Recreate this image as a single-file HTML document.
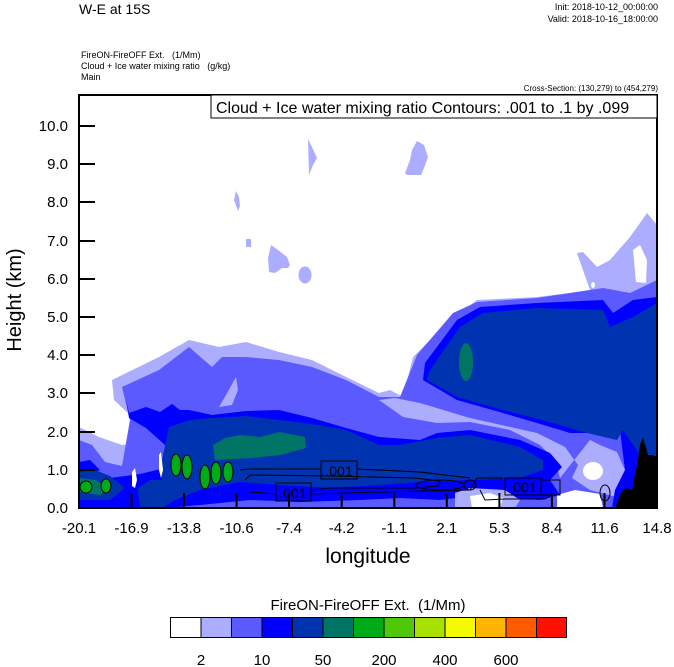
<!DOCTYPE html>
<html><head><meta charset="utf-8"><style>
html,body{margin:0;padding:0;background:#fff;}
svg{display:block;font-family:"Liberation Sans",sans-serif;}
</style></head><body>
<svg width="674" height="667" viewBox="0 0 674 667" xmlns="http://www.w3.org/2000/svg">
<text x="79" y="14" font-size="14">W-E at 15S</text>
<text x="658" y="10" font-size="9" text-anchor="end">Init: 2018-10-12_00:00:00</text>
<text x="658" y="22" font-size="9" text-anchor="end">Valid: 2018-10-16_18:00:00</text>
<text x="81" y="58" font-size="9" xml:space="preserve">FireON-FireOFF Ext.   (1/Mm)</text>
<text x="81" y="69" font-size="9" xml:space="preserve">Cloud + Ice water mixing ratio   (g/kg)</text>
<text x="81" y="80" font-size="9">Main</text>
<text x="658" y="91" font-size="8" text-anchor="end">Cross-Section: (130,279) to (454,279)</text>

<defs><clipPath id="pc"><rect x="79" y="95" width="578" height="413"/></clipPath></defs>
<g clip-path="url(#pc)">
<!-- lavender -->
<polygon fill="#adadff" points="79,427 99,437 122,445 146,442 162,445 160,430 130,415 114,400 112,380 159,357 189,340 219,347 246,342 279,352 312,360 346,377 379,393 390,390 403,397 413,357 450,320 477,300 537,297 570,293 590,290 577,253 583,252 597,267 610,260 630,237 647,213 657,225 657,508 79,508"/>
<polygon fill="#fff" points="633,250 640,245 647,260 646,283 636,282"/>
<ellipse cx="593" cy="285" rx="2" ry="3" fill="#fff"/>
<polygon fill="#adadff" points="308,139 311,145 317,158 313,165 309,175"/>
<polygon fill="#adadff" points="417,141 424,145 428,157 424,168 421,175 407,175 405,173 410,160 412,150"/>
<polygon fill="#adadff" points="236,191 239,197 240,206 238,211 234,200"/>
<rect x="246" y="239" width="5" height="8" fill="#adadff"/>
<polygon fill="#adadff" points="271,245 278,250 287,257 290,265 288,268 282,268 275,273 269,272 268,258"/>
<ellipse cx="305" cy="275" rx="6.5" ry="8.5" fill="#adadff"/>
<!-- medium -->
<polygon fill="#5a5aff" points="79,440 92,445 105,462 122,466 130,420 122,387 159,370 189,347 212,367 222,357 246,357 279,360 312,367 346,380 379,397 400,397 417,355 453,313 477,302 537,298 603,288 630,293 657,280 657,508 79,508"/>
<polygon fill="#adadff" points="219,407 226,395 236,377 238,390 232,405"/>
<!-- lavender gap under plume -->
<polygon fill="#adadff" points="379,400 395,398 420,403 470,418 537,433 565,447 578,465 572,478 590,490 620,498 625,470 617,452 600,445 590,440 560,478 555,460 540,445 510,430 470,422 437,423 403,417"/>
<ellipse cx="593" cy="471" rx="10" ry="9" fill="#fff"/>
<!-- blue -->
<polygon fill="#0000ff" points="126,400 129,413 146,407 160,412 172,404 180,410 189,410 212,415 246,411 279,410 312,418 346,428 379,437 420,440 437,433 470,430 520,440 550,453 562,467 550,480 560,495 540,500 480,495 440,500 400,498 360,500 300,502 250,500 200,505 165,508 165,445 146,428 129,418"/>
<polygon fill="#0000ff" points="79,500 95,488 110,478 140,474 165,468 165,508 79,508"/>
<polygon fill="#0000ff" points="79,462 90,460 100,470 85,476 79,474"/>
<polygon fill="#0000ff" points="425,363 457,320 480,307 537,303 603,300 613,313 633,300 657,297 657,440 640,440 623,433 570,433 537,423 503,413 457,400 423,380"/>
<polygon fill="#0000ff" points="620,430 640,430 657,440 657,508 612,508 615,490 625,470"/>
<!-- dark blue -->
<polygon fill="#0033b0" points="169,427 190,420 212,418 246,416 279,420 312,424 346,430 379,445 400,445 437,438 470,435 520,447 543,460 543,470 520,478 470,480 420,482 380,485 330,488 280,485 240,482 200,490 175,500 162,508 162,460"/>
<polygon fill="#0033b0" points="430,370 460,327 483,313 537,308 603,310 610,327 633,317 657,303 657,460 640,455 623,430 617,440 587,433 553,423 503,410 457,397 427,380"/>
<polygon fill="#0033b0" points="79,472 95,470 110,476 125,488 110,500 79,500"/>
<polygon fill="#0033b0" points="138,488 150,480 165,480 165,508 140,508"/>
<!-- white / lavender near bottom -->
<polygon fill="#adadff" points="455,493 470,488 505,490 520,500 515,508 455,508"/>
<polygon fill="#fff" points="470,496 490,493 503,498 500,508 472,508"/>
<polygon fill="#fff" points="557,495 575,490 600,494 603,508 557,508"/>
<polygon fill="#fff" points="132,472 135,468 137,480 135,488 132,486"/>
<polygon fill="#fff" points="159,455 161,452 163,470 161,478 159,470"/>
<!-- teal -->
<polygon fill="#007566" points="213,445 225,438 240,435 260,437 280,432 305,437 306,448 280,455 250,458 215,460"/>
<ellipse cx="466" cy="362" rx="7" ry="19" fill="#007566"/>
<polygon fill="#007566" points="79,478 95,480 110,488 100,495 79,492"/>
<!-- green cells -->
<g fill="#00ab18" stroke="#000" stroke-width="1">
<ellipse cx="176" cy="465" rx="5" ry="11"/>
<ellipse cx="187" cy="467" rx="5" ry="12"/>
<ellipse cx="205" cy="477" rx="5" ry="12"/>
<ellipse cx="216" cy="473" rx="5" ry="11"/>
<ellipse cx="228" cy="472" rx="5" ry="10"/>
<ellipse cx="86" cy="487" rx="6" ry="6"/>
<ellipse cx="106" cy="486" rx="5" ry="7"/>
</g>
<!-- contour lines -->
<g fill="none" stroke="#000" stroke-width="1">
<polyline points="240,470 249,469 321,469"/>
<polyline points="357,469 420,472 470,478"/>
<path d="M245,480 L250,475 L330,476 L415,478 L440,481 L438,486 L415,488 L330,488 L311,490"/>
<path d="M250,492 L276,494"/>
<path d="M311,494 L420,491 L470,490 L477,478 L503,478"/>
<ellipse cx="440" cy="485" rx="24" ry="5"/>
<ellipse cx="470" cy="485" rx="6" ry="5"/>
<path d="M480,490 L485,500 L505,499 L545,499 L550,496"/>
<path d="M541,480 L560,480 L560,495 L541,495"/>
<ellipse cx="605" cy="493" rx="5" ry="8"/>
</g>
<g stroke="#000" stroke-width="1" fill="none">
<rect x="321" y="461" width="36" height="18"/>
<rect x="276" y="483" width="35" height="18"/>
<rect x="505" y="478" width="36" height="17"/>
</g>
<text x="339" y="476" font-size="14" text-anchor="middle">.001</text>
<text x="293" y="498" font-size="14" text-anchor="middle">.001</text>
<text x="523" y="492" font-size="14" text-anchor="middle">.001</text>
<!-- terrain -->
<polygon fill="#000" points="615,508 620,495 625,488 632,490 637,465 640,445 643,437 648,455 652,455 657,457 657,508"/>
</g>
<!-- ticks -->
<g stroke="#000" stroke-width="2">
<line x1="79" y1="470" x2="95" y2="470"/><line x1="79" y1="432" x2="95" y2="432"/>
<line x1="79" y1="393" x2="95" y2="393"/><line x1="79" y1="355" x2="95" y2="355"/>
<line x1="79" y1="317" x2="95" y2="317"/><line x1="79" y1="279" x2="95" y2="279"/>
<line x1="79" y1="241" x2="95" y2="241"/><line x1="79" y1="202" x2="95" y2="202"/>
<line x1="79" y1="164" x2="95" y2="164"/><line x1="79" y1="126" x2="95" y2="126"/>
<line x1="131.5" y1="508" x2="131.5" y2="493"/><line x1="184" y1="508" x2="184" y2="493"/>
<line x1="236.6" y1="508" x2="236.6" y2="493"/><line x1="289" y1="508" x2="289" y2="493"/>
<line x1="341.7" y1="508" x2="341.7" y2="493"/><line x1="394.3" y1="508" x2="394.3" y2="493"/>
<line x1="446.8" y1="508" x2="446.8" y2="493"/><line x1="499.4" y1="508" x2="499.4" y2="493"/>
<line x1="551.9" y1="508" x2="551.9" y2="493"/><line x1="604.5" y1="508" x2="604.5" y2="493"/>
</g>
<rect x="79" y="95" width="578" height="413" fill="none" stroke="#000" stroke-width="2"/>
<rect x="211" y="95" width="446" height="23" fill="#fff" stroke="#000" stroke-width="1"/>
<text x="216" y="113" font-size="16">Cloud + Ice water mixing ratio Contours: .001 to .1 by .099</text>
<g font-size="15" text-anchor="end">
<text x="68" y="513">0.0</text><text x="68" y="475">1.0</text><text x="68" y="437">2.0</text>
<text x="68" y="398">3.0</text><text x="68" y="360">4.0</text><text x="68" y="322">5.0</text>
<text x="68" y="284">6.0</text><text x="68" y="246">7.0</text><text x="68" y="207">8.0</text>
<text x="68" y="169">9.0</text><text x="68" y="131">10.0</text>
</g>
<text transform="translate(21,300) rotate(-90)" font-size="20" text-anchor="middle">Height (km)</text>
<g font-size="15" text-anchor="middle">
<text x="79" y="533">-20.1</text><text x="131.5" y="533">-16.9</text><text x="184" y="533">-13.8</text>
<text x="236.6" y="533">-10.6</text><text x="289" y="533">-7.4</text><text x="341.7" y="533">-4.2</text>
<text x="394.3" y="533">-1.1</text><text x="446.8" y="533">2.1</text><text x="499.4" y="533">5.3</text>
<text x="551.9" y="533">8.4</text><text x="604.5" y="533">11.6</text><text x="657" y="533">14.8</text>
</g>
<text x="368" y="563" font-size="21" text-anchor="middle">longitude</text>
<text x="368" y="610" font-size="15" text-anchor="middle" xml:space="preserve">FireON-FireOFF Ext.  (1/Mm)</text>
<g stroke="#000" stroke-width="1">
<rect x="170.5" y="617.5" width="30.5" height="20" fill="#ffffff"/>
<rect x="201" y="617.5" width="30.5" height="20" fill="#adadff"/>
<rect x="231.5" y="617.5" width="30.5" height="20" fill="#5a5aff"/>
<rect x="262" y="617.5" width="30.5" height="20" fill="#0000ff"/>
<rect x="292.5" y="617.5" width="30.5" height="20" fill="#0033b0"/>
<rect x="323" y="617.5" width="30.5" height="20" fill="#007566"/>
<rect x="353.5" y="617.5" width="30.5" height="20" fill="#00ab18"/>
<rect x="384" y="617.5" width="30.5" height="20" fill="#50c80a"/>
<rect x="414.5" y="617.5" width="30.5" height="20" fill="#a8e000"/>
<rect x="445" y="617.5" width="30.5" height="20" fill="#f5fa00"/>
<rect x="475.5" y="617.5" width="30.5" height="20" fill="#ffb400"/>
<rect x="506" y="617.5" width="30.5" height="20" fill="#ff5a00"/>
<rect x="536.5" y="617.5" width="30" height="20" fill="#ff1000"/>
</g>
<g font-size="15" text-anchor="middle">
<text x="201" y="665">2</text><text x="262" y="665">10</text><text x="323" y="665">50</text>
<text x="384" y="665">200</text><text x="445" y="665">400</text><text x="506" y="665">600</text>
</g>
</svg>
</body></html>
